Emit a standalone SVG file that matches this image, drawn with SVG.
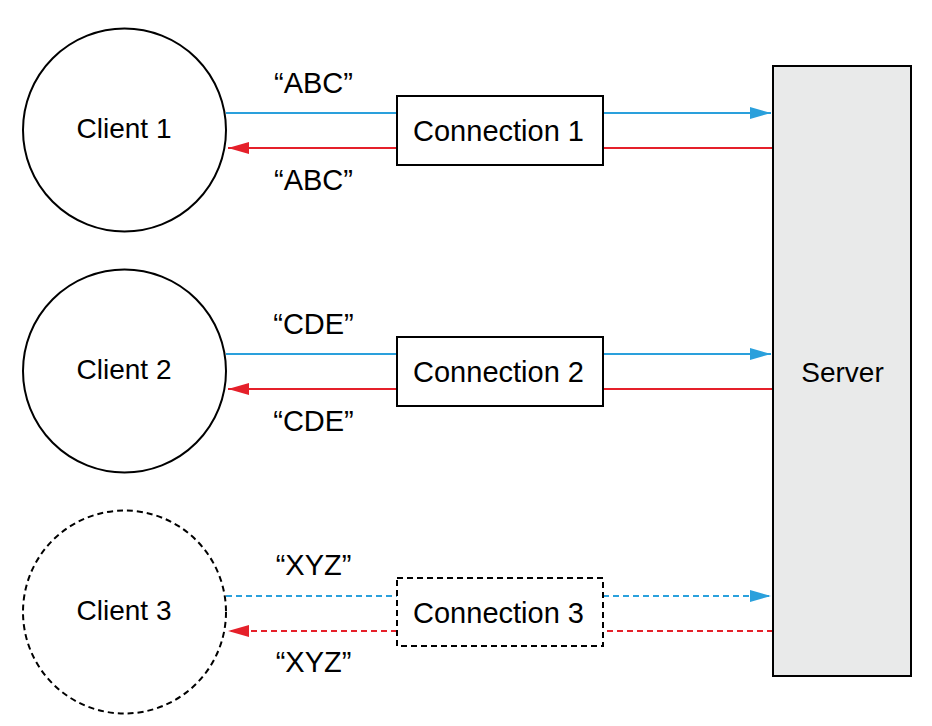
<svg xmlns="http://www.w3.org/2000/svg" width="932" height="726" viewBox="0 0 932 726">
<defs>
<style>
text{font-family:"Liberation Sans",Arial,sans-serif;fill:#000;text-anchor:middle}
.node{fill:#fff;stroke:#000;stroke-width:2}
.dash{stroke-dasharray:6 4}
.lbl{font-size:28px}
.cl{font-size:29px}
.q{font-size:29px}
.blue{stroke:#2aa0dc;stroke-width:2;fill:none}
.red{stroke:#e5202a;stroke-width:2;fill:none}
</style>
<marker id="ab" markerWidth="22" markerHeight="14" refX="21" refY="7" orient="auto" markerUnits="userSpaceOnUse"><path d="M0,1 L21,7 L0,13 Z" fill="#2aa0dc"/></marker>
<marker id="ar" markerWidth="22" markerHeight="14" refX="21" refY="7" orient="auto" markerUnits="userSpaceOnUse"><path d="M0,1 L21,7 L0,13 Z" fill="#e5202a"/></marker>
</defs>
<rect width="932" height="726" fill="#fff"/>
<g id="connectors">
<path class="blue" d="M226,113 H397 M603,113 H771" marker-end="url(#ab)"/>
<path class="red" d="M773,148 H603 M397,148 H228" marker-end="url(#ar)"/>
<path class="blue" d="M226,354 H397 M603,354 H771" marker-end="url(#ab)"/>
<path class="red" d="M773,389 H603 M397,389 H228" marker-end="url(#ar)"/>
<path class="blue dash" d="M226,596 H397 M603,596 H771" marker-end="url(#ab)"/>
<path class="red dash" d="M773,631 H603 M397,631 H228" marker-end="url(#ar)"/>
</g>
<g id="server"><rect x="773" y="66" width="138" height="610" fill="#e9eaea" stroke="#000" stroke-width="2"/><text x="842.5" y="381.5" class="lbl">Server</text></g>
<g id="client1"><circle class="node" cx="124.5" cy="130" r="101.5"/><text x="124" y="137.7" class="lbl">Client 1</text></g>
<g id="client2"><circle class="node" cx="124.5" cy="371" r="101.5"/><text x="124" y="378.7" class="lbl">Client 2</text></g>
<g id="client3"><circle class="node dash" cx="124.5" cy="612" r="101.5"/><text x="124" y="619.7" class="lbl">Client 3</text></g>
<g id="conn1"><rect class="node" x="397" y="96" width="206" height="69"/><text x="498.5" y="140.7" class="cl">Connection 1</text></g>
<g id="conn2"><rect class="node" x="397" y="337" width="206" height="69"/><text x="498.5" y="381.7" class="cl">Connection 2</text></g>
<g id="conn3"><rect class="node dash" x="397" y="578" width="206" height="68"/><text x="498.5" y="622.5" class="cl">Connection 3</text></g>
<g id="labels">
<text x="313.5" y="93" class="q">“ABC”</text>
<text x="313.5" y="190" class="q">“ABC”</text>
<text x="313.5" y="334" class="q">“CDE”</text>
<text x="313.5" y="431" class="q">“CDE”</text>
<text x="313.5" y="575" class="q">“XYZ”</text>
<text x="313.5" y="672" class="q">“XYZ”</text>
</g>
</svg>
